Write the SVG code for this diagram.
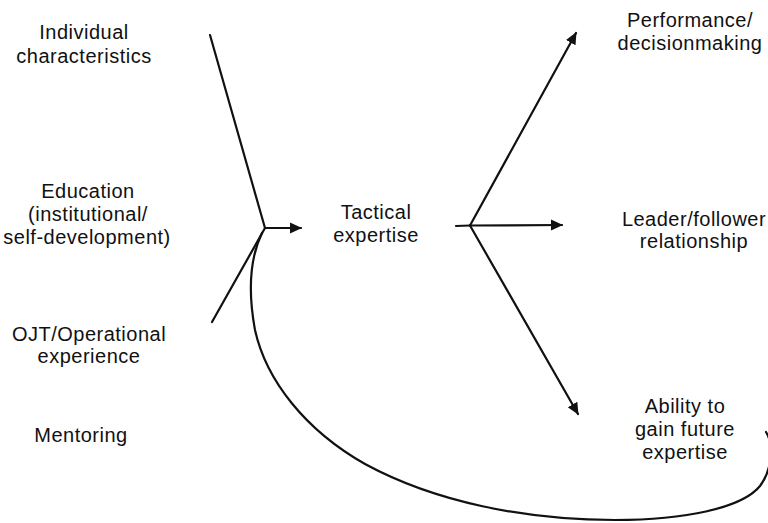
<svg xmlns="http://www.w3.org/2000/svg" width="768" height="523" viewBox="0 0 768 523">
<style>
text{font-family:"Liberation Sans",Arial,sans-serif;font-size:20px;letter-spacing:0.5px;fill:#111;text-anchor:middle}
.ln{fill:none;stroke:#111;stroke-width:2.2;stroke-linecap:round;stroke-linejoin:round}
</style>
<defs>
<marker id="ah" viewBox="0 0 12 12" refX="11" refY="6" markerWidth="12" markerHeight="12" markerUnits="userSpaceOnUse" orient="auto">
<path d="M0,0.5 L12,6 L0,11.5 z" fill="#111"/>
</marker>
</defs>
<rect width="768" height="523" fill="#fff"/>
<g id="connectors">
<path class="ln" d="M210,35 L265,228"/>
<path class="ln" d="M212,322 L265,228"/>
<path class="ln" d="M265,228 L301,228" marker-end="url(#ah)"/>
<path class="ln" d="M456,226 L470,225.5"/>
<path class="ln" d="M470,225.5 L576,33" marker-end="url(#ah)"/>
<path class="ln" d="M470,225.5 L562,225" marker-end="url(#ah)"/>
<path class="ln" d="M470,225.5 L578,414" marker-end="url(#ah)"/>
<path class="ln" d="M262,233 C250,258 248,292 255,330 C266,380 305,430 365,464 C435,502 525,520 615,520 C685,520 742,508 760,486 C772,470 774,445 766,432"/>
</g>
<g id="n-individual"><text x="84" y="39">Individual</text><text x="84" y="63">characteristics</text></g>
<g id="n-education"><text x="88" y="198">Education</text><text x="88" y="221">(institutional/</text><text x="87" y="244">self-development)</text></g>
<g id="n-ojt"><text x="89" y="341">OJT/Operational</text><text x="89" y="363">experience</text></g>
<g id="n-mentoring"><text x="81" y="442">Mentoring</text></g>
<g id="n-tactical"><text x="376" y="219">Tactical</text><text x="376" y="242">expertise</text></g>
<g id="n-performance"><text x="690" y="27">Performance/</text><text x="690" y="50">decisionmaking</text></g>
<g id="n-leader"><text x="694" y="226">Leader/follower</text><text x="694" y="248">relationship</text></g>
<g id="n-ability"><text x="685" y="413">Ability to</text><text x="685" y="436">gain future</text><text x="685" y="459">expertise</text></g>
</svg>
